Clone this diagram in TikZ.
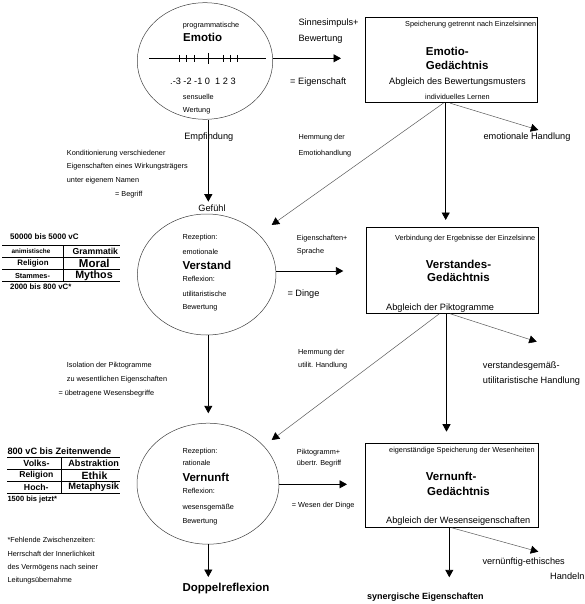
\documentclass[tikz,border=0pt]{standalone}
\usepackage{fontspec}
\setmainfont{Liberation Sans}
\usetikzlibrary{arrows.meta,shapes.geometric}
\begin{document}
\begin{tikzpicture}[x=1pt,y=-1pt,
  sm/.style={font=\fontsize{7.3}{8}\selectfont, inner sep=0pt, anchor=west},
  md/.style={font=\fontsize{9.2}{10}\selectfont, inner sep=0pt, anchor=west},
  bg/.style={font=\fontsize{11.5}{12}\selectfont\bfseries, inner sep=0pt, anchor=west},
  tb/.style={font=\fontsize{#1}{10}\selectfont\bfseries, inner sep=0pt},
  circ/.style={ellipse, draw=black!75, line width=0.5pt, inner sep=0pt},
  mem/.style={rectangle, draw=black, line width=0.9pt, inner sep=0pt},
  arr/.style={-{Triangle[length=7.5pt,width=8pt]}, line width=0.9pt},
  diag/.style={-{Triangle[length=7.5pt,width=8pt,color=black]}, draw=black!65, line width=0.5pt},
  rule/.style={line width=0.8pt},
]
\useasboundingbox (0,0) rectangle (585,604);

% ---------- circles ----------
\node[circ, minimum width=135.5pt, minimum height=116.6pt] (emo) at (205,61) {};
\node[circ, minimum width=138.5pt, minimum height=121pt] (vs) at (206.7,274.5) {};
\node[circ, minimum width=142pt, minimum height=121pt] (vn) at (208,483.7) {};

% ---------- memory boxes ----------
\node[mem, minimum width=172.7pt, minimum height=85.4pt] (b1) at (451.35,60) {};
\node[mem, minimum width=172.3pt, minimum height=85.6pt] (b2) at (452.15,270.5) {};
\node[mem, minimum width=173.3pt, minimum height=84pt] (b3) at (451.65,485.3) {};

% ---------- arrow end points ----------
\coordinate (a1) at (341,58.3);
\coordinate (a2) at (208.3,201.7);
\coordinate (a3) at (343.3,271);
\coordinate (a4) at (208.3,413.3);
\coordinate (a5) at (347,484.3);
\coordinate (a6) at (208.3,577);
\coordinate (d1) at (271.7,225);
\coordinate (v1) at (445.7,220);
\coordinate (h1) at (538.3,130);
\coordinate (d2) at (271.7,440);
\coordinate (v2) at (446.5,431.7);
\coordinate (h2) at (536.7,341.7);
\coordinate (v3) at (449.3,577.3);
\coordinate (h3) at (538.3,551.7);

% ---------- connectors ----------
\draw[arr] (emo.east |- a1) -- (a1);
\draw[arr] (emo.south -| a2) -- (a2);
\draw[arr] (vs.east |- a3) -- (a3);
\draw[arr] (vs.south -| a4) -- (a4);
\draw[arr] (vn.east |- a5) -- (a5);
\draw[arr] (vn.south -| a6) -- (a6);
\draw[arr] (b1.south -| v1) -- (v1);
\draw[diag] ([xshift=-8pt]b1.south) -- (d1);
\draw[diag] ([xshift=-1.3pt]b1.south) -- (h1);
\draw[arr] (b2.south -| v2) -- (v2);
\draw[diag] ([xshift=-12.8pt]b2.south) -- (d2);
\draw[diag] ([xshift=-2pt]b2.south) -- (h2);
\draw[arr] (b3.south -| v3) -- (v3);
\draw[diag] (b3.south) -- (h3);

% ---------- scale inside top circle ----------
\draw[rule] (149,58.3) -- (265.7,58.3);
\foreach \t in {179,186.5,194,223,230,237} \draw[rule] (\t,55) -- (\t,61.7);
\draw[rule] (208.5,53) -- (208.5,64);

% ---------- top circle texts ----------
\node[sm] (e1) at (182.7,26) {programmatische};
\node[bg] (e2) at (183,37.7) {Emotio};
\node[md] (e3) at (170,81.7) {.-3 -2 -1 0 \ 1 2 3};
\node[sm] (e4) at (182.7,97.3) {sensuelle};
\node[sm] (e5) at (182.7,110.7) {Wertung};
\node[md, anchor=center] (emp) at (208.8,137.3) {Empfindung};
\node[md, anchor=center] (gef) at (212,208.3) {Gefühl};

% ---------- middle circle texts ----------
\node[sm] (s1) at (182.3,237.3) {Rezeption:};
\node[sm] (s2) at (182.3,251.7) {emotionale};
\node[bg] (s3) at (182.3,265) {Verstand};
\node[sm] (s4) at (182.3,279.3) {Reflexion:};
\node[sm] (s5) at (182.3,294.3) {utilitaristische};
\node[sm] (s6) at (182.3,307.7) {Bewertung};

% ---------- bottom circle texts ----------
\node[sm] (n1) at (182.3,451.7) {Rezeption:};
\node[sm] (n2) at (182.3,463.3) {rationale};
\node[bg] (n3) at (182.3,477.3) {Vernunft};
\node[sm] (n4) at (182.3,490.7) {Reflexion:};
\node[sm] (n5) at (182.3,507.3) {wesensgemäße};
\node[sm] (n6) at (182.3,521.7) {Bewertung};
\node[bg, anchor=center] (dop) at (226,588.3) {Doppelreflexion};

% ---------- box texts ----------
\node[sm] (m1) at (405,25) {Speicherung getrennt nach Einzelsinnen};
\node[bg] (m2) at (425.7,51.7) {Emotio-};
\node[bg] (m3) at (425.7,65.7) {Gedächtnis};
\node[md, anchor=center] (m4) at (457.5,81.7) {Abgleich des Bewertungsmusters};
\node[sm, anchor=center] (m5) at (457.5,96.7) {individuelles Lernen};

\node[sm] (k1) at (395,238.7) {Verbindung der Ergebnisse der Einzelsinne};
\node[bg] (k2) at (425.7,264.3) {Verstandes-};
\node[bg] (k3) at (427,277.3) {Gedächtnis};
\node[md] (k4) at (386,308.3) {Abgleich der Piktogramme};

\node[sm] (r1) at (389,451) {eigenständige Speicherung der Wesenheiten};
\node[bg] (r2) at (425.7,476.7) {Vernunft-};
\node[bg] (r3) at (427,491.7) {Gedächtnis};
\node[md] (r4) at (386,520.7) {Abgleich der Wesenseigenschaften};

% ---------- connector labels ----------
\node[md] (l1) at (298.3,23.3) {Sinnesimpuls+};
\node[md] (l2) at (298.3,39) {Bewertung};
\node[md] (l3) at (290,81.7) {= Eigenschaft};
\node[sm] (l4) at (298.3,137.3) {Hemmung der};
\node[sm] (l5) at (298.3,153.3) {Emotiohandlung};
\node[md] (l6) at (483.3,136.7) {emotionale Handlung};

\node[sm] (l7) at (66.7,153.3) {Konditionierung verschiedener};
\node[sm] (l8) at (66.7,166.7) {Eigenschaften eines Wirkungsträgers};
\node[sm] (l9) at (66.7,181) {unter eigenem Namen};
\node[sm] (l10) at (115,195) {= Begriff};

\node[sm] (l11) at (296.7,238.3) {Eigenschaften+};
\node[sm] (l12) at (296.7,251.7) {Sprache};
\node[md] (l13) at (287.3,294.3) {= Dinge};

\node[sm] (l14) at (66.7,366) {Isolation der Piktogramme};
\node[sm] (l15) at (66.7,380) {zu wesentlichen Eigenschaften};
\node[sm] (l16) at (58.3,393.3) {= übetragene Wesensbegriffe};
\node[sm] (l17) at (298,352.7) {Hemmung der};
\node[sm] (l18) at (298,366) {utilit. Handlung};
\node[md] (l19) at (482.7,366) {verstandesgemäß-};
\node[md] (l20) at (482.7,380.7) {utilitaristische Handlung};

\node[sm] (l21) at (296.7,452.3) {Piktogramm+};
\node[sm] (l22) at (296.7,464) {übertr. Begriff};
\node[sm] (l23) at (291.7,506) {= Wesen der Dinge};
\node[md] (l24) at (482.3,562.3) {vernünftig-ethisches};
\node[md] (l25) at (550,576.7) {Handeln};
\node[tb=9, anchor=center] (l26) at (425.3,596.7) {synergische Eigenschaften};

% ---------- top table ----------
\node[tb=8, anchor=west] (t0) at (10,236.5) {50000 bis 5000 vC};
\draw[rule] (2,245.5) -- (120,245.5);
\draw[rule] (2,257.5) -- (120,257.5);
\draw[rule] (2,269.5) -- (120,269.5);
\draw[rule] (2,281.5) -- (120,281.5);
\draw[rule] (63,245.5) -- (63,281.5);
\node[tb=6.4] (t1) at (31,251.5) {animistische};
\node[tb=7.9] (t2) at (33,263.5) {Religion};
\node[tb=7.3] (t3) at (32.5,275.5) {Stammes-};
\node[tb=8.7] (t4) at (95.3,251.5) {Grammatik};
\node[tb=11.5] (t5) at (94.3,263.5) {Moral};
\node[tb=10.7] (t6) at (94,275.5) {Mythos};
\node[tb=7.8, anchor=west] (t7) at (10,287) {2000 bis 800 vC*};

% ---------- bottom table ----------
\node[tb=9.2, anchor=west] (u0) at (7.3,451.5) {800 vC bis Zeitenwende};
\draw[rule] (7,457.5) -- (120,457.5);
\draw[rule] (7,469.5) -- (120,469.5);
\draw[rule] (7,481.5) -- (120,481.5);
\draw[rule] (7,493.5) -- (120,493.5);
\draw[rule] (61.7,457.5) -- (61.7,493.5);
\node[tb=8.9] (u1) at (36.5,463.5) {Volks-};
\node[tb=8.6] (u2) at (36.3,475.5) {Religion};
\node[tb=8.7] (u3) at (36.3,487.5) {Hoch-};
\node[tb=9.1] (u4) at (93.7,463.5) {Abstraktion};
\node[tb=10.5] (u5) at (94.5,475.5) {Ethik};
\node[tb=9.3] (u6) at (93.7,487.5) {Metaphysik};
\node[tb=7.5, anchor=west] (u7) at (7.3,499.5) {1500 bis jetzt*};

% ---------- footnote ----------
\node[sm] (f1) at (7.3,540) {*Fehlende Zwischenzeiten:};
\node[sm] (f2) at (7.3,554) {Herrschaft der Innerlichkeit};
\node[sm] (f3) at (7.3,567.7) {des Vermögens nach seiner};
\node[sm] (f4) at (7.3,581) {Leitungsübernahme};
\end{tikzpicture}
\end{document}
